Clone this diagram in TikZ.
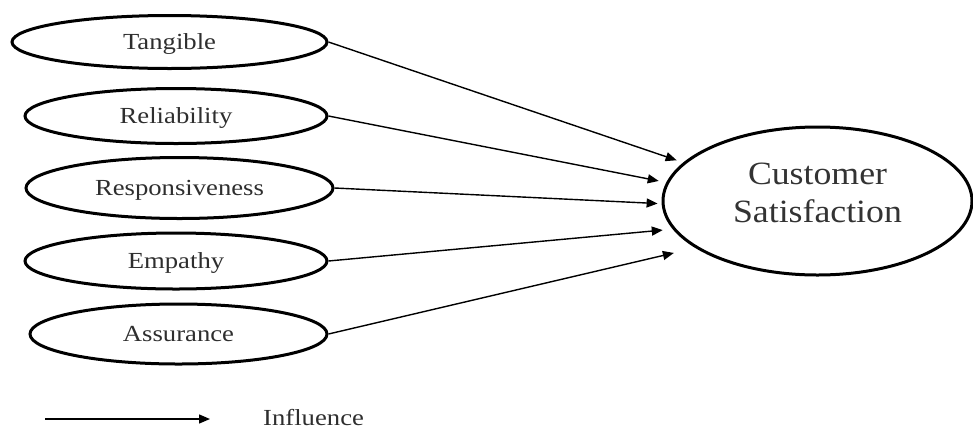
\documentclass[tikz,border=0pt]{standalone}
\usepackage{fontspec}
\setmainfont{Liberation Serif}
\newfontfamily\lblfont{Liberation Serif}[FakeStretch=1.16]
\newfontfamily\bigfont{Liberation Serif}[FakeStretch=1.1]
\usetikzlibrary{shapes.geometric,arrows.meta}
\begin{document}
\begin{tikzpicture}[x=1pt,y=-1pt,
  dim/.style={ellipse, draw, line width=3pt, inner sep=0pt, text=black!82,
    font=\lblfont\fontsize{23}{26}\selectfont, text height=15.2pt, text depth=0pt},
  bigell/.style={ellipse, draw, line width=3pt, inner sep=0pt},
  arr/.style={-{Triangle[length=11pt,width=9pt]}, line width=1.4pt}]
\useasboundingbox (0,0) rectangle (973,429);

\node[dim, minimum width=315pt, minimum height=53pt] (tan) at (169.5,42) {Tangible};
\node[dim, minimum width=302pt, minimum height=55pt] (rel) at (176,116) {Reliability};
\node[dim, minimum width=307pt, minimum height=61pt] (res) at (179.5,188) {Responsiveness};
\node[dim, minimum width=302pt, minimum height=56pt] (emp) at (176,261) {Empathy};
\node[dim, minimum width=297pt, minimum height=60pt] (ass) at (178.5,334) {Assurance};

\node[bigell, minimum width=309pt, minimum height=148pt] (cs) at (817.5,201) {};
\node[font=\bigfont\fontsize{32.5}{38}\selectfont, text=black!80, align=center, inner sep=0pt] (cst) at (817.5,193) {Customer\\Satisfaction};

\draw[arr, shorten >=7pt] (tan.east) -- (cs.164.9);
\draw[arr, shorten >=7.7pt] (rel.east) -- (cs.173.9);
\draw[arr, shorten >=4pt] (res.east) -- (cs.181.6);
\draw[arr, shorten >=10pt] (emp.east) -- (cs.191.9);
\draw[arr, shorten >=22pt] (ass.east) -- (cs.201.3);

\coordinate (lgA) at (45,419);
\coordinate (lgB) at (210,419);
\draw[arr] (lgA) -- (lgB);
\node[font=\lblfont\fontsize{23}{26}\selectfont, text=black!82, anchor=base west, inner sep=0pt] (lgT) at (263,425) {Influence};
\end{tikzpicture}
\end{document}
